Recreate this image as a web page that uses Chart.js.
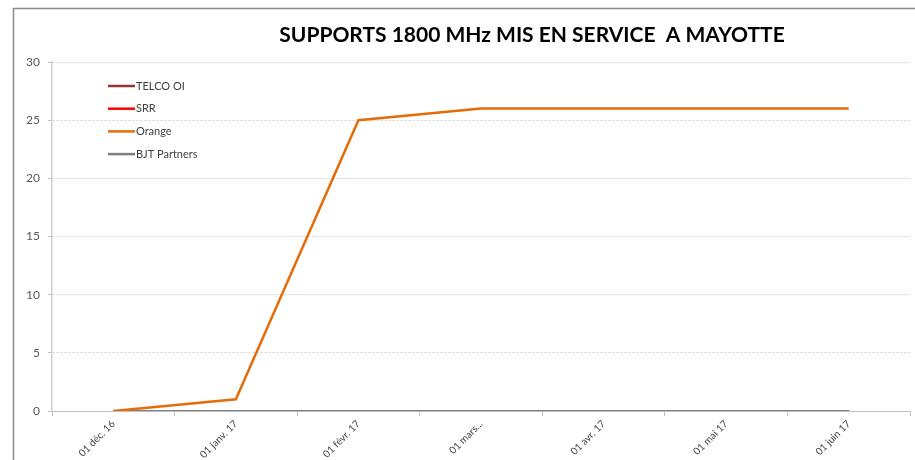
<!DOCTYPE html>
<html>
<head>
<meta charset="utf-8">
<script src="https://cdn.jsdelivr.net/npm/chart.js@4/dist/chart.umd.min.js"></script>
<style>
  html, body { margin: 0; padding: 0; background: #fff; }
  #chart { display: block; }
</style>
</head>
<body>
<canvas id="chart" width="915" height="460"></canvas>
<script>
const months = ['01 déc. 16', '01 janv. 17', '01 févr. 17', '01 mars...', '01 avr. 17', '01 mai 17', '01 juin 17'];
const telcoOi = [0, 0, 0, 0, 0, 0, 0];
const srr = [0, 0, 0, 0, 0, 0, 0];
const orange = [0, 1, 25, 26, 26, 26, 26];
const bjtPartners = [0, 0, 0, 0, 0, 0, 0];
const yTicks = [0, 5, 10, 15, 20, 25, 30];

const chartTitle = 'SUPPORTS 1800 MHz MIS EN SERVICE  A MAYOTTE';

// frame, title and the small vertical legend inside the plot
const decorations = {
  id: 'decorations',
  beforeDraw(chart) {
    const ctx = chart.ctx;
    ctx.save();
    ctx.strokeStyle = '#8a8a8a';
    ctx.lineWidth = 1.5;
    ctx.beginPath();
    ctx.moveTo(13.5, chart.height);
    ctx.lineTo(13.5, 8.5);
    ctx.lineTo(chart.width, 8.5);
    ctx.stroke();
    ctx.restore();
  },
  afterDraw(chart) {
    const ctx = chart.ctx;
    const area = chart.chartArea;
    ctx.save();
    ctx.fillStyle = '#000';
    ctx.font = 'bold 21px Lato';
    ctx.textAlign = 'center';
    ctx.textBaseline = 'alphabetic';
    ctx.fillText(chartTitle, 532, 42);

    ctx.font = '11px Lato';
    ctx.textAlign = 'left';
    ctx.textBaseline = 'middle';
    const x0 = area.left + 56;
    let y = area.top + 24;
    chart.data.datasets.forEach(ds => {
      ctx.strokeStyle = ds.borderColor;
      ctx.lineWidth = 2.5;
      ctx.beginPath();
      ctx.moveTo(x0, y);
      ctx.lineTo(x0 + 27, y);
      ctx.stroke();
      ctx.fillStyle = '#404040';
      ctx.fillText(ds.label, x0 + 28, y);
      y += 22.7;
    });
    ctx.restore();
  }
};

const line = (label, data, color, width, order) => ({
  label, data,
  borderColor: color,
  backgroundColor: color,
  borderWidth: width,
  pointRadius: 0,
  tension: 0,
  fill: false,
  order
});

new Chart(document.getElementById('chart'), {
  type: 'line',
  data: {
    labels: months,
    datasets: [
      line('TELCO OI', telcoOi, '#943634', 2, 4),
      line('SRR', srr, '#ff0000', 2, 3),
      line('Orange', orange, '#e46c0a', 2.5, 1),
      line('BJT Partners', bjtPartners, '#808080', 2, 2)
    ]
  },
  options: {
    responsive: false,
    animation: false,
    layout: { padding: { top: 62, right: 5, left: 0, bottom: 0 } },
    plugins: {
      legend: { display: false },
      title: { display: false },
      tooltip: { enabled: false }
    },
    scales: {
      x: {
        offset: true,
        grid: { offset: true, drawOnChartArea: false, tickLength: 5, color: '#bfbfbf' },
        border: { color: '#bfbfbf', width: 1 },
        ticks: {
          minRotation: 45, maxRotation: 45, autoSkip: false,
          color: '#404040', font: { family: 'Lato', size: 10 }, padding: 2
        },
        afterFit(scale) { scale.height = 49; }
      },
      y: {
        min: 0, max: 30,
        afterBuildTicks(scale) { scale.ticks = yTicks.map(v => ({ value: v })); },
        grid: { color: '#d0d0d0', tickLength: 4, tickColor: '#bfbfbf' },
        border: { display: true, color: '#d0d0d0', width: 1.5, dash: [2, 2] },
        ticks: { color: '#595959', font: { family: 'Lato', size: 12 }, padding: 8 },
        afterFit(scale) { scale.width = 52; }
      }
    }
  },
  plugins: [decorations]
});
</script>
</body>
</html>
